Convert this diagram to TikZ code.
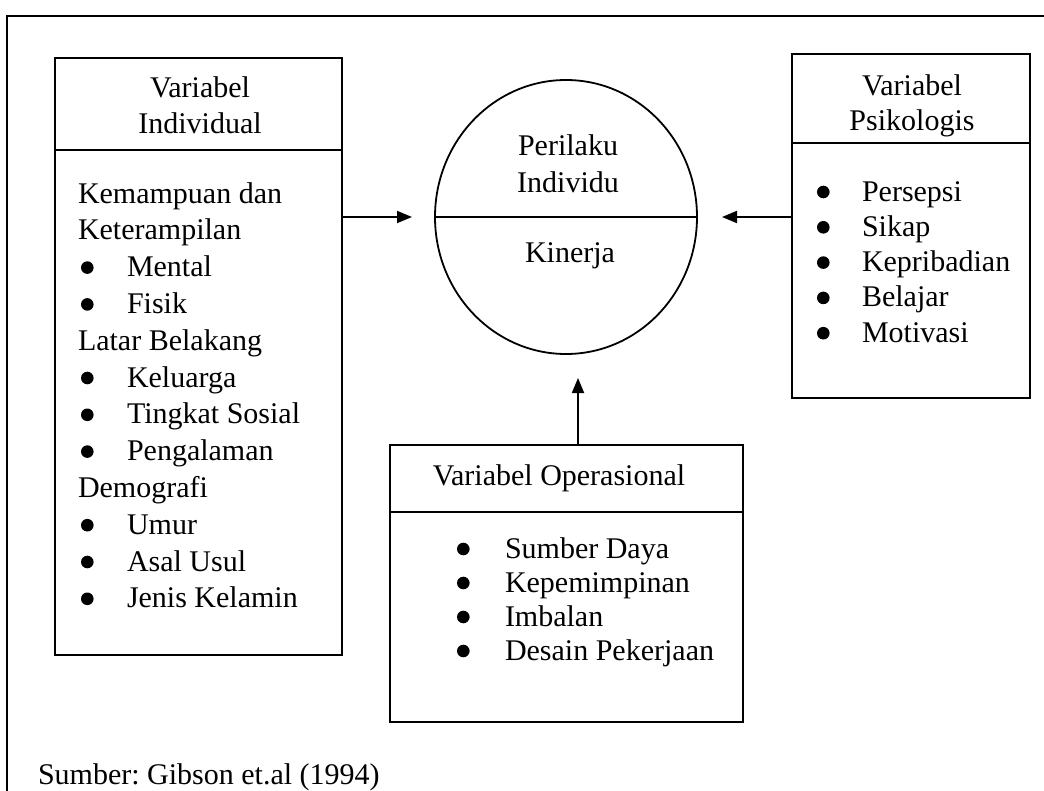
\documentclass[tikz,border=0pt]{standalone}
\usepackage{fontspec}
\setmainfont{Liberation Serif}
\usetikzlibrary{shapes.geometric,arrows.meta}
\frenchspacing
\newcommand{\blk}[3]{\fontsize{30}{#1}\selectfont\begin{tabular}[t]{@{}#2@{}}#3\end{tabular}}
\newcommand{\bl}[1]{\makebox[#1][l]{\tikz[baseline=-9pt]\fill (0pt,0pt) circle[radius=6.3pt];}}
\begin{document}
\begin{tikzpicture}[x=1pt,y=-1pt,line width=1.8pt,
  box/.style={draw,rectangle,inner sep=0pt},
  txt/.style={inner sep=0pt,outer sep=0pt},
  arr/.style={-{Triangle[length=15pt,width=12pt]}}]
\useasboundingbox (0,0) rectangle (1044,790);
% outer frame
\draw[line width=1.6pt] (7,795) -- (7,16) -- (1050,16);
% boxes
\node[box,minimum width=287pt,minimum height=597pt] (ind) at (198.5,356.5) {};
\node[box,minimum width=238pt,minimum height=344pt] (psi) at (911,226) {};
\node[box,minimum width=353pt,minimum height=277pt] (ops) at (566.5,583.5) {};
\node[draw,ellipse,inner sep=0pt,minimum width=262pt,minimum height=274pt] (circ) at (566,217) {};
% dividers
\draw (ind.west |- 0,150) -- (ind.east |- 0,150);
\draw (psi.west |- 0,143) -- (psi.east |- 0,143);
\draw (ops.west |- 0,512) -- (ops.east |- 0,512);
\draw (circ.west) -- (circ.east);
% texts
\node[txt,anchor=base] (indh) at (200,97) {\blk{36}{c}{Variabel\\Individual}};
\node[txt,anchor=base west] (indl) at (78,203) {\blk{36.8}{l}{Kemampuan dan\\Keterampilan\\
\hspace{3pt}\bl{46pt}Mental\\
\hspace{3pt}\bl{46pt}Fisik\\
Latar Belakang\\
\hspace{3pt}\bl{46pt}Keluarga\\
\hspace{3pt}\bl{46pt}Tingkat Sosial\\
\hspace{3pt}\bl{46pt}Pengalaman\\
Demografi\\
\hspace{3pt}\bl{46pt}Umur\\
\hspace{3pt}\bl{46pt}Asal Usul\\
\hspace{3pt}\bl{46pt}Jenis Kelamin}};
\node[txt,anchor=base] (psih) at (912,95) {\blk{35}{c}{Variabel\\Psikologis}};
\node[txt,anchor=base west] (psil) at (817,201) {\blk{35.3}{l}{\bl{45pt}Persepsi\\
\bl{45pt}Sikap\\
\bl{45pt}Kepribadian\\
\bl{45pt}Belajar\\
\bl{45pt}Motivasi}};
\node[txt,anchor=base] (opsh) at (559,485) {\fontsize{30}{36}\selectfont Variabel Operasional};
\node[txt,anchor=base west] (opsl) at (457,558) {\blk{34}{l}{\bl{48pt}Sumber Daya\\
\bl{48pt}Kepemimpinan\\
\bl{48pt}Imbalan\\
\bl{48pt}Desain Pekerjaan}};
\node[txt,anchor=base] (perilaku) at (568,155) {\blk{37}{c}{Perilaku\\Individu}};
\node[txt,anchor=base] (kinerja) at (570,262) {\fontsize{30}{36}\selectfont Kinerja};
\node[txt,anchor=base west] (sumber) at (38,784) {\fontsize{30}{36}\selectfont Sumber: Gibson et.al (1994)};
% arrows
\coordinate (ltip) at (412,217);
\coordinate (rtip) at (722,217);
\coordinate (utip) at (578,378);
\draw[arr] (ind.east |- circ.center) -- (ltip);
\draw[arr] (psi.west |- circ.center) -- (rtip);
\draw[arr] (ops.north -| utip) -- (utip);
\end{tikzpicture}
\end{document}
